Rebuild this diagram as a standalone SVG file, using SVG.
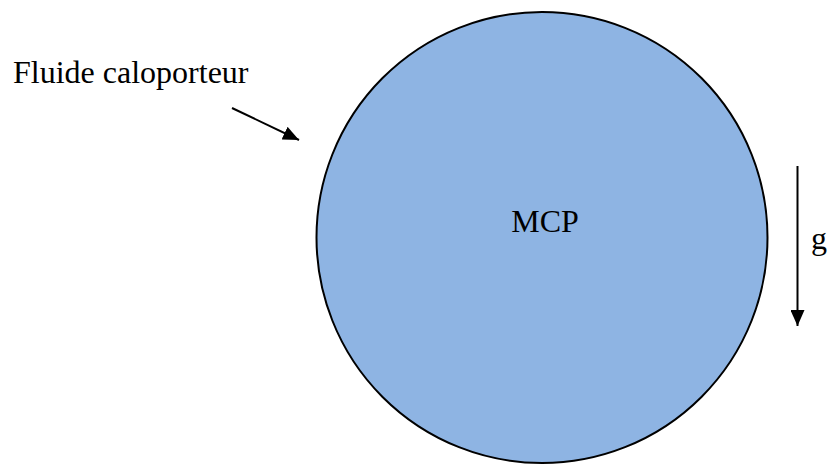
<svg xmlns="http://www.w3.org/2000/svg" width="829" height="464" viewBox="0 0 829 464">
<style>
.lbl { font-family: 'Liberation Serif', 'Times New Roman', serif; font-size: 32px; fill: #000; }
.ln { stroke: #000; stroke-width: 2; fill: none; }
</style>
<defs>
<marker id="ah" viewBox="0 0 16 14" refX="16" refY="7" markerWidth="16" markerHeight="14" orient="auto" markerUnits="userSpaceOnUse">
<path d="M0,0 L16,7 L0,14 Z" fill="#000"/>
</marker>
</defs>
<rect width="829" height="464" fill="#fff"/>
<g id="mcp">
<circle cx="542" cy="237.5" r="225.5" fill="#8eb4e3" stroke="#000" stroke-width="2"/>
<text class="lbl" x="545" y="232" text-anchor="middle">MCP</text>
</g>
<g id="fluide">
<text class="lbl" x="13" y="83">Fluide caloporteur</text>
</g>
<g id="gravity">
<text class="lbl" x="811" y="249">g</text>
</g>
<g id="connectors">
<line class="ln" x1="232" y1="108" x2="299" y2="140" marker-end="url(#ah)"/>
<line class="ln" x1="797.5" y1="166" x2="797.5" y2="326" marker-end="url(#ah)"/>
</g>
</svg>
